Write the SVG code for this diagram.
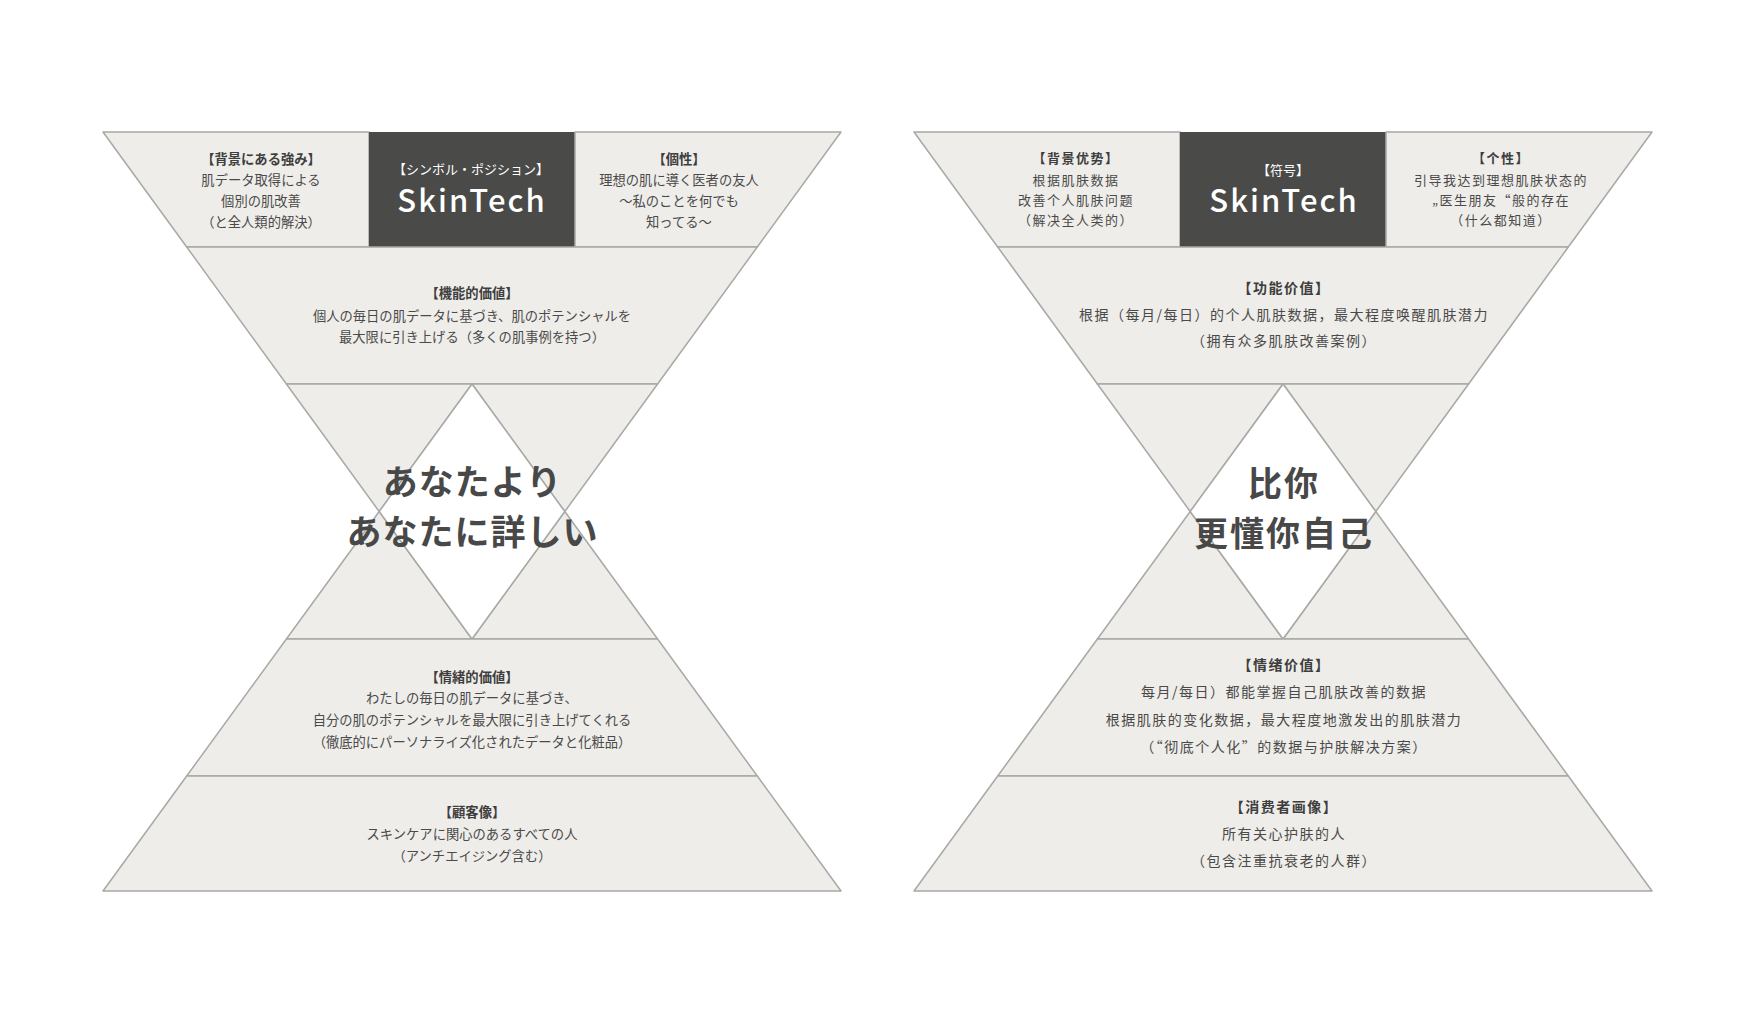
<svg xmlns="http://www.w3.org/2000/svg" width="1755" height="1024" viewBox="0 0 1755 1024">
<style>
.f{fill:#EEEDE9;stroke:#A8A8A5;stroke-width:1.5;stroke-linejoin:round}
.w{fill:#FFFFFF;stroke:#A8A8A5;stroke-width:1.5;stroke-linejoin:round}
.dk{fill:#4A4A48}
text{text-anchor:middle}
.jp{font-family:"Noto Sans CJK JP","Noto Sans",sans-serif}
.sc{font-family:"Noto Sans CJK SC","Noto Sans",sans-serif}
.t{font-size:13.3px;fill:#4A4A4A}
.b{font-size:13.3px;font-weight:700;fill:#3E3E3E}
.ts{font-size:13px;fill:#4A4A4A;letter-spacing:1.5px}
.bs{font-size:13px;font-weight:700;fill:#3E3E3E;letter-spacing:1.5px}
.tm{font-size:14px;fill:#4A4A4A;letter-spacing:1.5px}
.bm{font-size:14px;font-weight:700;fill:#3E3E3E;letter-spacing:1.5px}
.wt{font-size:13px;fill:#FFFFFF}
.logo{font-size:31px;font-weight:500;fill:#FFFFFF;letter-spacing:2px;font-family:"Noto Sans CJK JP","Noto Sans",sans-serif}
.big{font-size:35px;font-weight:700;fill:#484848}
</style>
<rect width="1755" height="1024" fill="#FFFFFF"/>

<!-- LEFT DIAGRAM -->
<g id="left-background">
<polygon class="f" points="103,132 369,132 369,247 186.7,247"/>
<text class="jp b" x="261" y="164">【背景にある強み】</text>
<text class="jp t" x="261" y="185">肌データ取得による</text>
<text class="jp t" x="261" y="206">個別の肌改善</text>
<text class="jp t" x="261" y="227">（と全人類的解決）</text>
</g>
<g id="left-symbol">
<rect class="dk" x="369" y="132" width="206" height="115"/>
<text class="jp wt" x="471" y="174">【シンボル・ポジション】</text>
<text class="logo" x="472" y="212">SkinTech</text>
</g>
<g id="left-personality">
<polygon class="f" points="575,132 841,132 757.3,247 575,247"/>
<text class="jp b" x="679" y="164">【個性】</text>
<text class="jp t" x="679" y="185">理想の肌に導く医者の友人</text>
<text class="jp t" x="679" y="206">～私のことを何でも</text>
<text class="jp t" x="679" y="227">知ってる～</text>
</g>
<g id="left-functional">
<polygon class="f" points="186.7,247 757.3,247 657.6,384 286.4,384"/>
<text class="jp b" x="472" y="298">【機能的価値】</text>
<text class="jp t" x="472" y="321">個人の毎日の肌データに基づき、肌のポテンシャルを</text>
<text class="jp t" x="472" y="342">最大限に引き上げる（多くの肌事例を持つ）</text>
</g>
<g id="left-core">
<polygon class="f" points="286.4,384 472,384 379.2,511.5"/>
<polygon class="f" points="472,384 657.6,384 564.8,511.5"/>
<polygon class="f" points="379.2,511.5 472,639 286.4,639"/>
<polygon class="f" points="564.8,511.5 657.6,639 472,639"/>
<polygon class="w" points="472,384 564.8,511.5 472,639 379.2,511.5"/>
<text class="jp big" x="472.5" y="495" style="letter-spacing:1px">あなたより</text>
<text class="jp big" x="472.5" y="545" style="letter-spacing:1px">あなたに詳しい</text>
</g>
<g id="left-emotional">
<polygon class="f" points="286.4,639 657.6,639 757.3,776 186.7,776"/>
<text class="jp b" x="472" y="682">【情緒的価値】</text>
<text class="jp t" x="472" y="703">わたしの毎日の肌データに基づき、</text>
<text class="jp t" x="472" y="725">自分の肌のポテンシャルを最大限に引き上げてくれる</text>
<text class="jp t" x="472" y="747">（徹底的にパーソナライズ化されたデータと化粧品）</text>
</g>
<g id="left-customer">
<polygon class="f" points="186.7,776 757.3,776 841,891 103,891"/>
<text class="jp b" x="472" y="817">【顧客像】</text>
<text class="jp t" x="472" y="839">スキンケアに関心のあるすべての人</text>
<text class="jp t" x="472" y="861">（アンチエイジング含む）</text>
</g>

<!-- RIGHT DIAGRAM -->
<g id="right-background">
<polygon class="f" points="914,132 1180,132 1180,247 997.7,247"/>
<text class="sc bs" x="1076" y="163">【背景优势】</text>
<text class="sc ts" x="1076" y="185">根据肌肤数据</text>
<text class="sc ts" x="1076" y="205">改善个人肌肤问题</text>
<text class="sc ts" x="1076" y="225">（解决全人类的）</text>
</g>
<g id="right-symbol">
<rect class="dk" x="1180" y="132" width="206" height="115"/>
<text class="sc wt" x="1283" y="175">【符号】</text>
<text class="logo" x="1284" y="212">SkinTech</text>
</g>
<g id="right-personality">
<polygon class="f" points="1386,132 1652,132 1568.3,247 1386,247"/>
<text class="sc bs" x="1501" y="163">【个性】</text>
<text class="sc ts" x="1501" y="185">引导我达到理想肌肤状态的</text>
<text class="sc ts" x="1501" y="205">„医生朋友“般的存在</text>
<text class="sc ts" x="1501" y="225">（什么都知道）</text>
</g>
<g id="right-functional">
<polygon class="f" points="997.7,247 1568.3,247 1468.6,384 1097.4,384"/>
<text class="sc bm" x="1284" y="293">【功能价值】</text>
<text class="sc tm" x="1284" y="320">根据（每月/每日）的个人肌肤数据，最大程度唤醒肌肤潜力</text>
<text class="sc tm" x="1284" y="346">（拥有众多肌肤改善案例）</text>
</g>
<g id="right-core">
<polygon class="f" points="1097.4,384 1283,384 1190.2,511.5"/>
<polygon class="f" points="1283,384 1468.6,384 1375.8,511.5"/>
<polygon class="f" points="1190.2,511.5 1283,639 1097.4,639"/>
<polygon class="f" points="1375.8,511.5 1468.6,639 1283,639"/>
<polygon class="w" points="1283,384 1375.8,511.5 1283,639 1190.2,511.5"/>
<text class="sc big" x="1284" y="496" style="font-size:34px;letter-spacing:2px">比你</text>
<text class="sc big" x="1284" y="546" style="font-size:34px;letter-spacing:2px">更懂你自己</text>
</g>
<g id="right-emotional">
<polygon class="f" points="1097.4,639 1468.6,639 1568.3,776 997.7,776"/>
<text class="sc bm" x="1284" y="670">【情绪价值】</text>
<text class="sc tm" x="1284" y="697">每月/每日）都能掌握自己肌肤改善的数据</text>
<text class="sc tm" x="1284" y="725">根据肌肤的变化数据，最大程度地激发出的肌肤潜力</text>
<text class="sc tm" x="1284" y="752">（“彻底个人化”的数据与护肤解决方案）</text>
</g>
<g id="right-customer">
<polygon class="f" points="997.7,776 1568.3,776 1652,891 914,891"/>
<text class="sc bm" x="1284" y="812">【消费者画像】</text>
<text class="sc tm" x="1284" y="839">所有关心护肤的人</text>
<text class="sc tm" x="1284" y="866">（包含注重抗衰老的人群）</text>
</g>
<g id="connectors"/>
</svg>
